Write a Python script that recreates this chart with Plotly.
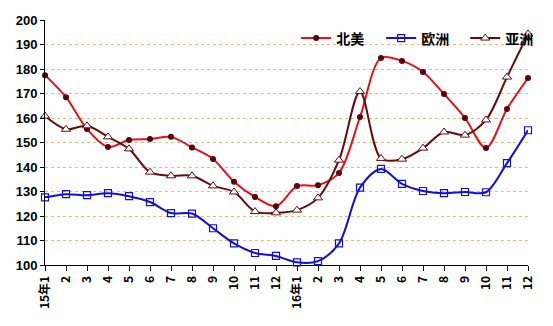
import plotly.graph_objects as go

months = ["15年1", "2", "3", "4", "5", "6", "7", "8", "9", "10", "11", "12",
          "16年1", "2", "3", "4", "5", "6", "7", "8", "9", "10", "11", "12"]

north_america = [177.5, 168.5, 155.5, 148.2, 151.0, 151.4, 152.3, 148.0, 143.3, 134.0, 127.8, 124.0,
                 132.2, 132.6, 137.6, 160.4, 184.5, 183.3, 178.8, 169.8, 160.0, 147.8, 163.7, 176.3]
europe = [127.6, 128.9, 128.5, 129.3, 128.1, 125.7, 121.2, 121.0, 115.0, 108.8, 104.9, 103.7,
          101.1, 101.6, 108.8, 131.6, 139.2, 133.1, 130.2, 129.3, 129.8, 129.7, 141.6, 155.0]
asia = [160.8, 155.4, 156.8, 152.3, 147.4, 137.9, 136.4, 136.4, 132.3, 129.8, 121.8, 121.3,
        122.4, 127.4, 142.8, 170.8, 143.5, 143.2, 147.7, 154.3, 153.0, 159.2, 176.7, 194.3]

x = list(range(len(months)))

fig = go.Figure()
fig.add_trace(go.Scatter(
    x=x, y=north_america, name="北美", mode="lines+markers", legend="legend",
    line=dict(color="#E8101A", width=2, shape="spline", smoothing=0.9),
    marker=dict(symbol="circle", size=6, color="#5A0008", line=dict(width=0)),
    cliponaxis=False))
fig.add_trace(go.Scatter(
    x=x, y=europe, name="欧洲", mode="lines+markers", legend="legend2",
    line=dict(color="#1010D8", width=2, shape="spline", smoothing=0.9),
    marker=dict(symbol="square-open", size=7, color="#1010D8", line=dict(width=1.2)),
    cliponaxis=False))
fig.add_trace(go.Scatter(
    x=x, y=asia, name="亚洲", mode="lines+markers", legend="legend3",
    line=dict(color="#6A0A0A", width=2, shape="spline", smoothing=0.9),
    marker=dict(symbol="triangle-up", size=8, color="white", line=dict(width=1, color="#6A0A0A")),
    cliponaxis=False))

legend_font = dict(size=14, family="'Noto Sans CJK SC'", color="black", weight="bold")
common = dict(orientation="h", xanchor="left", y=0.99, yanchor="top",
              bgcolor="rgba(0,0,0,0)", font=legend_font, itemwidth=30)

fig.update_layout(
    width=545, height=318,
    margin=dict(l=37, r=25, t=12, b=61, autoexpand=False),
    paper_bgcolor="white", plot_bgcolor="white",
    font=dict(family="Arial, 'Noto Sans CJK SC'", color="black"),
    showlegend=True,
    legend=dict(x=0.520, **common),
    legend2=dict(x=0.696, **common),
    legend3=dict(x=0.870, **common),
    shapes=[dict(type="rect", xref="paper", yref="paper", x0=0.501, x1=1.004,
                 y0=0.878, y1=0.976, fillcolor="white", line=dict(width=0), layer="between")],
)
fig.update_xaxes(
    range=[0, 23], tickmode="array", tickvals=x, ticktext=months, automargin=False,
    tickangle=-90, showline=True, linecolor="black", linewidth=1,
    ticks="outside", ticklen=5, tickcolor="black", showgrid=False, zeroline=False,
    tickfont=dict(size=12, family="'Noto Sans CJK SC'", weight="bold"))
fig.update_yaxes(
    range=[100, 200], tickmode="array", tickvals=list(range(100, 201, 10)), automargin=False,
    showline=True, linecolor="black", linewidth=1,
    ticks="outside", ticklen=4, tickcolor="black",
    showgrid=True, gridcolor="#EDB878", griddash="dot", gridwidth=1, zeroline=False,
    tickfont=dict(size=13, family="Arial", weight="bold"))

fig.write_html("out.html")
